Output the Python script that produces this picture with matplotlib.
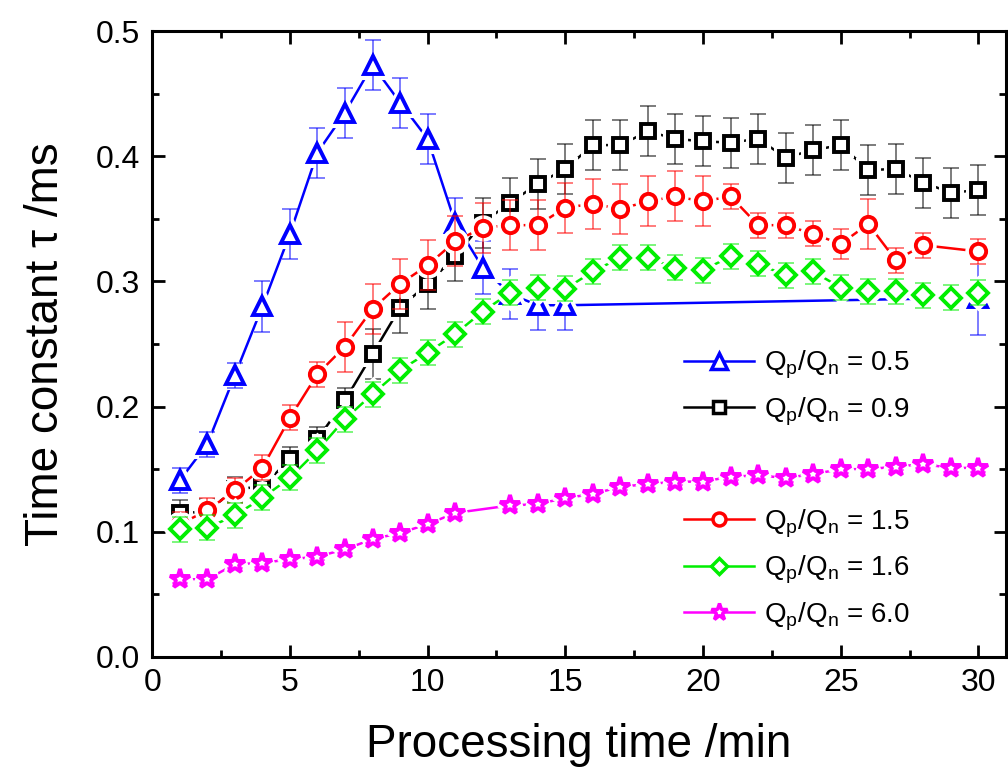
import matplotlib
matplotlib.use("Agg")
import matplotlib.pyplot as plt
from matplotlib.lines import Line2D
from matplotlib.ticker import MultipleLocator

plt.rcParams['font.family'] = ['Liberation Sans', 'DejaVu Sans']
plt.rcParams['mathtext.fontset'] = 'custom'
plt.rcParams['mathtext.rm'] = 'Liberation Sans'

# Qp/Qn = 0.5
blue_x = [1, 2, 3, 4, 5, 6, 7, 8, 9, 10, 11, 12, 13, 14, 15, 30]
blue_y = [0.141, 0.170, 0.225, 0.280, 0.338, 0.403, 0.435, 0.473, 0.443, 0.414,
          0.347, 0.311, 0.290, 0.281, 0.281, 0.287]
blue_err = [0.01, 0.01, 0.01, 0.02, 0.02, 0.02, 0.02, 0.02, 0.02, 0.02,
            0.02, 0.021, 0.02, 0.02, 0.02, 0.03]

# Qp/Qn = 0.9
black_x = list(range(1, 31))
black_y = [0.115, 0.116, 0.134, 0.136, 0.158, 0.174, 0.205, 0.242, 0.279, 0.298,
           0.320, 0.347, 0.363, 0.378, 0.390, 0.409, 0.409, 0.420, 0.414, 0.412,
           0.411, 0.414, 0.399, 0.405, 0.409, 0.389, 0.390, 0.379, 0.371, 0.373]
black_err = [0.01] * 7 + [0.02] * 23

# Qp/Qn = 1.5
red_x = list(range(1, 29)) + [30]
red_y = [0.106, 0.117, 0.133, 0.151, 0.191, 0.226, 0.248, 0.278, 0.298, 0.313,
         0.332, 0.343, 0.345, 0.345, 0.359, 0.362, 0.358, 0.364, 0.368, 0.364,
         0.368, 0.345, 0.345, 0.338, 0.330, 0.346, 0.317, 0.329, 0.324]
red_err = [0.01] * 6 + [0.02] * 14 + [0.01, 0.01, 0.01, 0.01, 0.012, 0.02,
                                      0.01, 0.01, 0.01]

# Qp/Qn = 1.6
green_x = list(range(1, 31))
green_y = [0.102, 0.103, 0.113, 0.127, 0.143, 0.165, 0.190, 0.210, 0.229, 0.243,
           0.258, 0.276, 0.291, 0.295, 0.294, 0.308, 0.319, 0.319, 0.311, 0.309,
           0.320, 0.314, 0.305, 0.308, 0.295, 0.292, 0.292, 0.289, 0.287, 0.291]
green_err = [0.01] * 30

# Qp/Qn = 6.0
mag_x = list(range(1, 12)) + list(range(13, 31))
mag_y = [0.062, 0.062, 0.074, 0.075, 0.078, 0.080, 0.086, 0.094, 0.099, 0.106,
         0.115, 0.121, 0.122, 0.127, 0.130, 0.136, 0.138, 0.140, 0.140, 0.144,
         0.145, 0.143, 0.146, 0.150, 0.150, 0.152, 0.154, 0.151, 0.151]
mag_err = [0.003] * 29

labels = ['0.5', '0.9', '1.5', '1.6', '6.0']

fig = plt.figure(figsize=(10.08, 7.81), dpi=100)
ax = fig.add_axes([0.151, 0.159, 0.847, 0.801])


def draw(x, y, err, color, marker, ms, z):
    ax.plot(x, y, color=color, lw=1.8, zorder=z)
    ax.plot(x, y, ls='none', marker=marker, ms=ms, mfc='white', mec='white',
            mew=8, zorder=z + 0.1)
    ax.errorbar(x, y, yerr=err, fmt='none', ecolor=color, alpha=0.6,
                elinewidth=1.2, capsize=6, capthick=1.2, zorder=z + 0.2)
    ax.plot(x, y, ls='none', marker=marker, ms=ms, mfc='white', mec=color,
            mew=2.8, zorder=z + 0.3)
    return Line2D([], [], color=color, lw=1.8, marker=marker, ms=ms * 0.85,
                  mfc='white', mec=color, mew=2.5)


h_blue = draw(blue_x, blue_y, blue_err, '#0000ff', '^', 13, 2)
h_black = draw(black_x, black_y, black_err, 'black', 's', 10, 3)
h_red = draw(red_x, red_y, red_err, '#ff0000', 'o', 11, 4)
h_green = draw(green_x, green_y, green_err, '#00ee00', 'D', 10, 5)
h_mag = draw(mag_x, mag_y, mag_err, '#ff00ff', '*', 15, 6)

ax.set_xlim(0, 31)
ax.set_ylim(0, 0.5)
ax.xaxis.set_major_locator(MultipleLocator(5))
ax.xaxis.set_minor_locator(MultipleLocator(2.5))
ax.yaxis.set_major_locator(MultipleLocator(0.1))
ax.yaxis.set_minor_locator(MultipleLocator(0.05))
ax.yaxis.set_major_formatter(matplotlib.ticker.FormatStrFormatter('%.1f'))
ax.tick_params(which='both', direction='in', top=True, right=True, width=2,
               labelsize=23)
ax.tick_params(which='major', length=9)
ax.tick_params(which='minor', length=5)
ax.tick_params(axis='x', pad=8)
ax.tick_params(axis='y', pad=9)
for s in ax.spines.values():
    s.set_linewidth(2.2)

ax.set_xlabel('Processing time /min', fontsize=33, labelpad=18)
ax.set_ylabel('Time constant \u03c4 /ms', fontsize=33, labelpad=20)

names = [r'Q$_\mathregular{p}$/Q$_\mathregular{n}$ = ' + s for s in labels]
leg_kw = dict(frameon=False, fontsize=20, handlelength=2.5, handletextpad=0.35,
              borderpad=0, borderaxespad=0, labelspacing=0.5, loc='center left')
leg1 = ax.legend([h_blue, h_black], names[:2],
                 bbox_to_anchor=(0.679, 0.503), bbox_transform=fig.transFigure,
                 **leg_kw)
ax.add_artist(leg1)
ax.legend([h_red, h_green, h_mag], names[2:],
          bbox_to_anchor=(0.679, 0.270), bbox_transform=fig.transFigure,
          **leg_kw)

fig.savefig('out.png', dpi=100)
